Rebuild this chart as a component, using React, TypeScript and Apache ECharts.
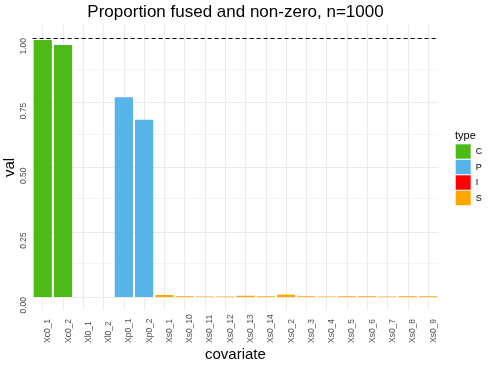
import React, { useEffect, useRef } from "react";
import * as echarts from "echarts";

const categories = [
  "Xc0_1", "Xc0_2", "Xl0_1", "Xl0_2", "Xp0_1", "Xp0_2", "Xs0_1", "Xs0_10",
  "Xs0_11", "Xs0_12", "Xs0_13", "Xs0_14", "Xs0_2", "Xs0_3", "Xs0_4", "Xs0_5",
  "Xs0_6", "Xs0_7", "Xs0_8", "Xs0_9",
];
const types = ["C", "C", "I", "I", "P", "P", "S", "S", "S", "S", "S", "S", "S", "S", "S", "S", "S", "S", "S", "S"];
const values = [
  0.992, 0.973, 0, 0, 0.771, 0.684, 0.008, 0.003, 0.002, 0.002, 0.005, 0.003,
  0.009, 0.003, 0.002, 0.003, 0.003, 0.002, 0.003, 0.003,
];
const typeNames = ["C", "P", "I", "S"];
const typeColors = ["#4CBB17", "#56B4E9", "#FF0000", "#FFA500"];
const yTicks = [0, 0.25, 0.5, 0.75, 1];
const referenceLine = 1;

const FONT = "Liberation Sans, Arial, sans-serif";

export default function App() {
  const ref = useRef<HTMLDivElement>(null);
  useEffect(() => {
    if (!ref.current) return;
    const chart = echarts.init(ref.current, null, { renderer: "svg" });
    const minorTicks = yTicks.slice(1).map((v, i) => (v + yTicks[i]) / 2);
    const gridLine = (width: number) => ({
      silent: true,
      symbol: "none",
      label: { show: false },
      z: 0,
      lineStyle: { color: "#EBEBEB", width, type: "solid" },
      emphasis: { disabled: true },
    });
    const barSeries: any[] = typeNames.map((t, k) => ({
      name: t,
      type: "bar",
      stack: "total",
      barWidth: "90%",
      z: 2,
      itemStyle: { color: typeColors[k] },
      data: values.map((v, i) => (types[i] === t ? v : null)),
    }));
    const gridSeries = [
      {
        type: "line",
        data: [],
        z: 0,
        markLine: {
          ...gridLine(0.5),
          data: minorTicks.map((v) => ({ yAxis: v })),
        },
      },
      {
        type: "line",
        data: [],
        z: 0,
        markLine: {
          ...gridLine(1),
          data: [
            ...yTicks.map((v) => ({ yAxis: v })),
            ...categories.map((c) => ({ xAxis: c })),
          ],
        },
      },
      {
        type: "line",
        data: [],
        z: 5,
        markLine: {
          silent: true,
          symbol: "none",
          label: { show: false },
          z: 5,
          lineStyle: { color: "#000", width: 1, type: [4, 3] },
          data: [{ yAxis: referenceLine }],
        },
      },
    ];
    chart.setOption({
      animation: false,
      textStyle: { fontFamily: FONT },
      title: [
        {
          text: "Proportion fused and non-zero, n=1000",
          left: 235.5,
          top: 3,
          textAlign: "center",
          textVerticalAlign: "top",
          padding: 0,
          textStyle: { fontSize: 17, fontWeight: "normal", color: "#000", fontFamily: FONT },
        },
        {
          text: "type",
          left: 455,
          top: 129,
          padding: 0,
          textStyle: { fontSize: 11, fontWeight: "normal", color: "#000", fontFamily: FONT },
        },
      ],
      legend: {
        data: typeNames,
        orient: "vertical",
        left: 455.7,
        top: 144.3,
        padding: 0,
        itemWidth: 15,
        itemHeight: 14.4,
        itemGap: 1.1,
        icon: "rect",
        selectedMode: false,
        textStyle: { fontSize: 9, color: "#000", fontFamily: FONT },
      },
      grid: { left: 32.6, right: 49.8, top: 25, bottom: 56, outerBoundsMode: "none", containLabel: false },
      xAxis: {
        type: "category",
        data: categories,
        boundaryGap: true,
        axisLine: { show: false },
        axisTick: { show: false },
        splitLine: { show: false },
        axisLabel: {
          interval: 0,
          rotate: 90,
          align: "left",
          verticalAlign: "top",
          margin: 33,
          fontSize: 8.5,
          color: "#4D4D4D",
          fontFamily: FONT,
        },
        name: "covariate",
        nameLocation: "middle",
        nameGap: 36,
        nameMoveOverlap: false,
        nameTextStyle: { fontSize: 15, color: "#000", fontFamily: FONT },
      },
      yAxis: {
        type: "value",
        min: -0.05,
        max: 1.05,
        axisLine: { show: false },
        axisTick: { show: false },
        splitLine: { show: false },
        axisLabel: {
          customValues: yTicks,
          formatter: (v: number) => v.toFixed(2),
          rotate: 90,
          align: "right",
          verticalAlign: "bottom",
          margin: 5.6,
          fontSize: 8.5,
          color: "#4D4D4D",
          fontFamily: FONT,
        },
        name: "val",
        nameLocation: "middle",
        nameGap: 17,
        nameMoveOverlap: false,
        nameTextStyle: { fontSize: 15, color: "#000", fontFamily: FONT },
      },
      series: [...gridSeries, ...barSeries],
    });
    return () => chart.dispose();
  }, []);
  return (
    <div
      ref={ref}
      style={{ position: "fixed", left: 0, top: 0, width: 488, height: 366 }}
    />
  );
}
